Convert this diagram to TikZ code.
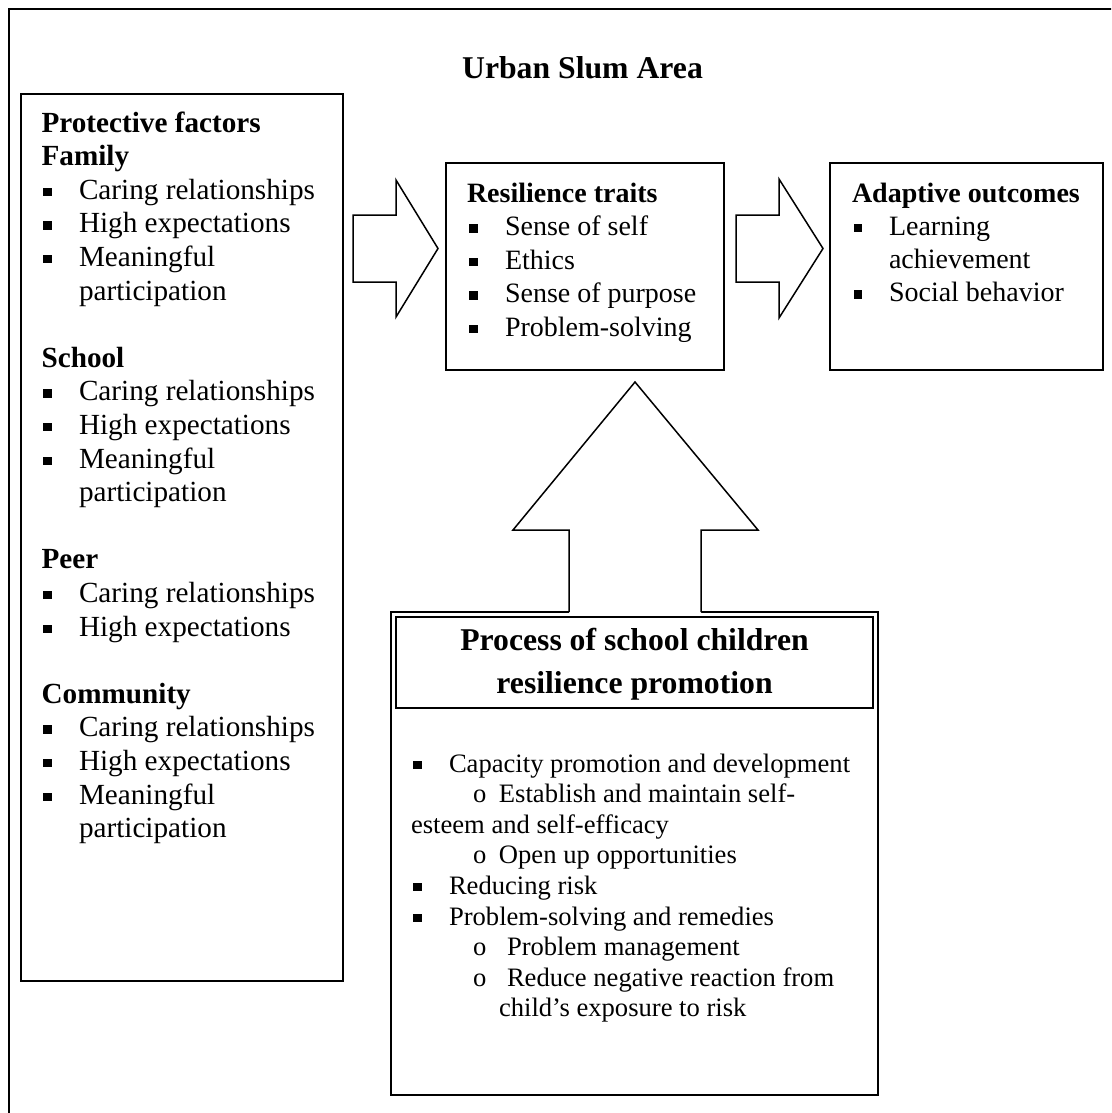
\documentclass[tikz,border=0pt]{standalone}
\usepackage{fontspec}
\setmainfont{Liberation Serif}
\newcommand{\sqb}{\rule[3pt]{8.5pt}{8.5pt}}
% bullet line: #1 = bullet offset, #2 = text offset, #3 = text
\newcommand{\bln}[3]{\hbox{\hbox to #2{\kern#1\sqb\hss}#3}}
% circle line: #1 = text offset, #2 = text
\newcommand{\oln}[2]{\hbox{\hbox to #1{\kern62pt o\hss}#2}}
\newcommand{\pln}[2]{\hbox{\kern#1#2}}
\tikzset{
  boxed/.style={draw, rectangle, inner sep=0pt, fill=none},
  txt/.style={anchor=base west, inner sep=0pt, outer sep=0pt},
  blockarrow/.style={draw, fill=white, line join=miter},
}
\begin{document}
\begin{tikzpicture}[x=1pt,y=-1pt,line width=1.5pt]
\useasboundingbox (0,0) rectangle (1111,1113);
\clip (0,0) rectangle (1111,1113);
\fill[white] (0,0) rectangle (1111,1113);
% outer frame (continues beyond the page at right and bottom)
\draw (9,9) rectangle (1140,1140);

\node[txt, anchor=base, font=\bfseries\fontsize{31.7}{38}\selectfont] (title) at (582.5,79) {Urban Slum Area};

% boxes
\node[boxed, minimum width=322pt, minimum height=887pt] (left) at (182,537.5) {};
\node[boxed, minimum width=278pt, minimum height=207pt] (res) at (585,266.5) {};
\node[boxed, minimum width=273pt, minimum height=207pt] (ada) at (966.5,266.5) {};
\node[boxed, minimum width=487pt, minimum height=483pt] (proc) at (634.5,853.5) {};
\node[boxed, minimum width=477pt, minimum height=91pt] (proctitle) at (634.5,662.5) {};

% left box text
\node[txt, font=\fontsize{29.2}{33.6}\selectfont] (lefttext) at (41.6,132) {\vtop{\baselineskip=33.6pt\lineskiplimit=-100pt
  \hbox{\bfseries Protective factors}
  \hbox{\bfseries Family}
  \bln{1.7pt}{37.4pt}{Caring relationships}
  \bln{1.7pt}{37.4pt}{High expectations}
  \bln{1.7pt}{37.4pt}{Meaningful}
  \pln{37.4pt}{participation}
  \hbox{}
  \hbox{\bfseries School}
  \bln{1.7pt}{37.4pt}{Caring relationships}
  \bln{1.7pt}{37.4pt}{High expectations}
  \bln{1.7pt}{37.4pt}{Meaningful}
  \pln{37.4pt}{participation}
  \hbox{}
  \hbox{\bfseries Peer}
  \bln{1.7pt}{37.4pt}{Caring relationships}
  \bln{1.7pt}{37.4pt}{High expectations}
  \hbox{}
  \hbox{\bfseries Community}
  \bln{1.7pt}{37.4pt}{Caring relationships}
  \bln{1.7pt}{37.4pt}{High expectations}
  \bln{1.7pt}{37.4pt}{Meaningful}
  \pln{37.4pt}{participation}}};

% resilience traits
\node[txt, font=\fontsize{28}{33.6}\selectfont] (restext) at (467,202) {\vtop{\baselineskip=33.6pt\lineskiplimit=-100pt
  \hbox{\bfseries Resilience traits}
  \bln{2pt}{38pt}{Sense of self}
  \bln{2pt}{38pt}{Ethics}
  \bln{2pt}{38pt}{Sense of purpose}
  \bln{2pt}{38pt}{Problem-solving}}};

% adaptive outcomes
\node[txt, font=\fontsize{28}{33.6}\selectfont] (adatext) at (852,202) {\vtop{\baselineskip=33.2pt\lineskiplimit=-100pt
  \hbox{\bfseries Adaptive outcomes}
  \bln{1.5pt}{37pt}{Learning}
  \pln{37pt}{achievement}
  \bln{1.5pt}{37pt}{Social behavior}}};

% process title
\node[txt, anchor=base, font=\bfseries\fontsize{31.7}{38}\selectfont] (pt1) at (634.5,650) {Process of school children};
\node[txt, anchor=base, font=\bfseries\fontsize{31.7}{38}\selectfont] (pt2) at (634.5,693) {resilience promotion};

% process list
\node[txt, font=\fontsize{26.6}{30.6}\selectfont] (proctext) at (411,772) {\vtop{\baselineskip=30.6pt\lineskiplimit=-100pt
  \bln{2pt}{38pt}{Capacity promotion and development}
  \oln{88pt}{Establish and maintain self-}
  \hbox{esteem and self-efficacy}
  \oln{88pt}{Open up opportunities}
  \bln{2pt}{38pt}{Reducing risk}
  \bln{2pt}{38pt}{Problem-solving and remedies}
  \oln{96pt}{Problem management}
  \oln{96pt}{Reduce negative reaction from}
  \pln{88pt}{child’s exposure to risk}}};

% block arrows
\coordinate (a1s) at (left.east |- res.west);
\draw[blockarrow] (353,215) -- (396,215) -- (396,180) -- (438,248.5) -- (396,317) -- (396,282) -- (353,282) -- cycle;
\draw[blockarrow] (736,215) -- (779,215) -- (779,179) -- (823,248.5) -- (779,318) -- (779,282) -- (736,282) -- cycle;
\fill[white] (569,613.5) -- (569,530) -- (513,530) -- (635,382) -- (758,530) -- (701,530) -- (701,613.5) -- cycle;
\draw[line join=miter] (569,612) -- (569,530) -- (513,530) -- (635,382) -- (758,530) -- (701,530) -- (701,612);
\end{tikzpicture}
\end{document}
